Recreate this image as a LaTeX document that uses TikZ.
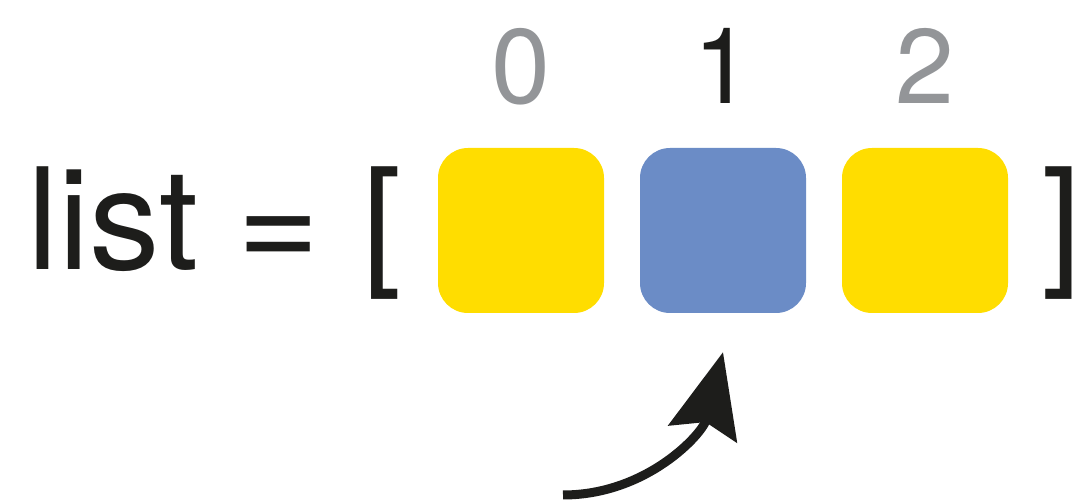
\documentclass[tikz,border=0pt]{standalone}
\usepackage{fontspec}
\setmainfont{TeX Gyre Heros}
\usetikzlibrary{arrows.meta}
\definecolor{ink}{HTML}{1D1D1B}
\definecolor{faded}{HTML}{939598}
\definecolor{lemon}{HTML}{FFDD00}
\definecolor{steel}{HTML}{6B8CC6}

\begin{document}
\begin{tikzpicture}[x=1pt, y=1pt,
	cell/.style={rectangle, rounded corners=30pt, minimum width=166pt, minimum height=165pt, inner sep=0pt},
	idx/.style={font=\fontsize{106}{106}\selectfont, anchor=base, inner sep=0pt},
	big/.style={font=\fontsize{141}{141}\selectfont, text=ink, anchor=base, inner sep=0pt}]
	\useasboundingbox (0, 0) rectangle (1084, 503);
	\node[big] (name) at (113, 233) {list};
	\node[big] (eq) at (279, 233) {=};
	\node[big] (open) at (382, 233) {[};
	\node[big] (close) at (1062, 233) {]};
	\node[cell, fill=lemon] (c0) at (521, 272.5) {};
	\node[cell, fill=steel] (c1) at (723, 272.5) {};
	\node[cell, fill=lemon] (c2) at (925, 272.5) {};
	\node[idx, text=faded] (i0) at (521, 399) {0};
	\node[idx, text=ink] (i1) at (723, 399) {1};
	\node[idx, text=faded] (i2) at (925, 399) {2};
	\coordinate (start) at (563, 8);
	\draw[ink, line width=9pt, -{Stealth[length=84pt, width=70pt, inset=12pt]}] (start) to[out=0, in=-104] ([yshift=-39pt]c1.south);
\end{tikzpicture}
\end{document}
